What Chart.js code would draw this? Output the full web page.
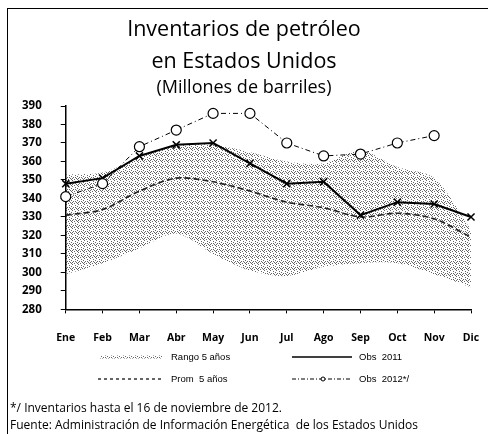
<!DOCTYPE html>
<html>
<head>
<meta charset="utf-8">
<script src="https://cdn.jsdelivr.net/npm/chart.js@4"></script>
<style>
  html, body { margin: 0; padding: 0; background: #fff; }
  #wrap { position: relative; width: 488px; height: 434px; overflow: hidden; }
  #frame { position: absolute; left: 7px; top: 8px; width: 490px; height: 440px; border-left: 1.5px solid #000; border-top: 1.5px solid #000; }
  .title { position: absolute; left: 0; width: 488px; text-align: center; font-family: "Open Sans", sans-serif; color: #000; }
  .foot { position: absolute; left: 10px; font-family: "Open Sans", sans-serif; font-size: 12px; color: #000; white-space: nowrap; }
  canvas { position: absolute; left: 0; top: 0; }
</style>
</head>
<body>
<div id="wrap">
  <div id="frame"></div>
  <canvas id="c" width="488" height="434"></canvas>
  <div class="title" style="top:13px;font-size:21.5px;">Inventarios de petróleo</div>
  <div class="title" style="top:45px;font-size:21.5px;">en Estados Unidos</div>
  <div class="title" style="top:74px;font-size:18px;">(Millones de barriles)</div>
  <div class="foot" style="top:399px;">*/ Inventarios hasta el 16 de noviembre de 2012.</div>
  <div class="foot" style="top:416px;">Fuente: Administración de Información Energética&nbsp; de los Estados Unidos</div>
</div>
<script>
const categories = ["Ene","Feb","Mar","Abr","May","Jun","Jul","Ago","Sep","Oct","Nov","Dic"];
const obs2011 = [348, 351, 363, 369, 370, 359, 348, 349, 331, 338, 337, 330];
const obs2012 = [341, 348, 368, 377, 386, 386, 370, 363, 364, 370, 374, null];
const prom5 = [331, 334, 344, 351, 349, 344, 338, 335, 330, 332, 329, 319];
const rangoMax = [353, 354, 362, 369, 369, 365, 360, 359, 366, 357, 351, 323];
const rangoMin = [299, 305, 313, 321, 310, 301, 298, 303, 305, 305, 299, 292];
const yTicks = [280, 290, 300, 310, 320, 330, 340, 350, 360, 370, 380, 390];

function makeStipple() {
  const p = document.createElement('canvas');
  p.width = 6; p.height = 6;
  const g = p.getContext('2d');
  g.fillStyle = 'rgba(0,0,0,0.6)';
  const dots = [[0,0],[3,1],[1,3],[4,4],[2,5],[5,2],[0,4],[3,3],[5,5]];
  dots.forEach(d => g.fillRect(d[0], d[1], 1, 1));
  return g.createPattern(p, 'repeat');
}
const stipple = makeStipple();

const legendPlugin = {
  id: 'customLegend',
  afterDraw(chart) {
    const ctx = chart.ctx;
    ctx.save();
    ctx.font = '9.5px "Liberation Sans Narrow", "Liberation Sans", sans-serif';
    ctx.fillStyle = '#000';
    ctx.textBaseline = 'middle';
    const r1 = 357, r2 = 379;
    // Rango
    ctx.fillStyle = stipple;
    ctx.fillRect(100, r1 - 1.5, 62, 3);
    ctx.fillStyle = '#000';
    ctx.fillText('Rango 5 años', 171, r1);
    // Prom
    ctx.strokeStyle = '#333'; ctx.lineWidth = 1.3;
    ctx.setLineDash([3, 3]);
    ctx.beginPath(); ctx.moveTo(98, r2); ctx.lineTo(162, r2); ctx.stroke();
    ctx.fillText('Prom  5 años', 171, r2);
    // Obs 2011
    ctx.setLineDash([]); ctx.lineWidth = 1.6; ctx.strokeStyle = '#000';
    ctx.beginPath(); ctx.moveTo(292, r1); ctx.lineTo(352, r1); ctx.stroke();
    ctx.fillText('Obs  2011', 359, r1);
    // Obs 2012
    ctx.lineWidth = 1; ctx.setLineDash([4, 2, 1, 2]);
    ctx.beginPath(); ctx.moveTo(292, r2); ctx.lineTo(352, r2); ctx.stroke();
    ctx.setLineDash([]);
    ctx.beginPath(); ctx.arc(323, r2, 2, 0, Math.PI * 2); ctx.fillStyle = '#fff'; ctx.fill(); ctx.stroke();
    ctx.fillStyle = '#000';
    ctx.fillText('Obs  2012*/', 359, r2);
    ctx.restore();
  }
};

new Chart(document.getElementById('c'), {
  type: 'line',
  data: {
    labels: categories,
    datasets: [
      { label: 'Obs 2012*/', data: obs2012, borderColor: '#000', borderWidth: 1, borderDash: [5, 3, 1, 3],
        pointStyle: 'circle', pointRadius: 5, pointBackgroundColor: '#fff', pointBorderColor: '#000', pointBorderWidth: 1.2,
        tension: 0, fill: false, order: 1 },
      { label: 'Obs 2011', data: obs2011, borderColor: '#000', borderWidth: 2,
        pointStyle: 'crossRot', pointRadius: 5, pointBorderColor: '#000', pointBorderWidth: 1.5,
        tension: 0, fill: false, order: 2 },
      { label: 'Prom 5 años', data: prom5, borderColor: '#222', borderWidth: 1.6, borderDash: [6, 3],
        pointRadius: 0, tension: 0.3, fill: false, order: 3 },
      { label: 'Rango max', data: rangoMax, borderWidth: 0, borderColor: 'rgba(0,0,0,0)', pointRadius: 0,
        backgroundColor: stipple, fill: '+1', tension: 0.3, order: 4 },
      { label: 'Rango min', data: rangoMin, borderWidth: 0, borderColor: 'rgba(0,0,0,0)', pointRadius: 0,
        fill: false, tension: 0.3, order: 5 }
    ]
  },
  options: {
    responsive: false,
    animation: false,
    layout: { padding: { top: 106, right: 7, bottom: 72, left: 3 } },
    plugins: { legend: { display: false }, title: { display: false }, tooltip: { enabled: false } },
    scales: {
      x: {
        offset: false,
        afterFit(scale) { scale.paddingRight = 17; scale.paddingLeft = 12; },
        grid: { display: true, drawOnChartArea: false, color: '#000', tickLength: 4, tickWidth: 1 },
        border: { display: true, color: '#000', width: 1.5 },
        ticks: { color: '#000', font: { family: '"Open Sans", sans-serif', size: 10.5, weight: 'bold' }, padding: 18, maxRotation: 0, autoSkip: false }
      },
      y: {
        min: 280, max: 390,
        afterBuildTicks(axis) { axis.ticks = yTicks.map(v => ({ value: v })); },
        grid: { display: true, drawOnChartArea: false, color: '#000', tickLength: 5, tickWidth: 1 },
        border: { display: true, color: '#000', width: 1.5 },
        ticks: { color: '#000', font: { family: '"Open Sans", sans-serif', size: 11.5, weight: 'bold' }, padding: 19 }
      }
    }
  },
  plugins: [legendPlugin]
});
</script>
</body>
</html>
